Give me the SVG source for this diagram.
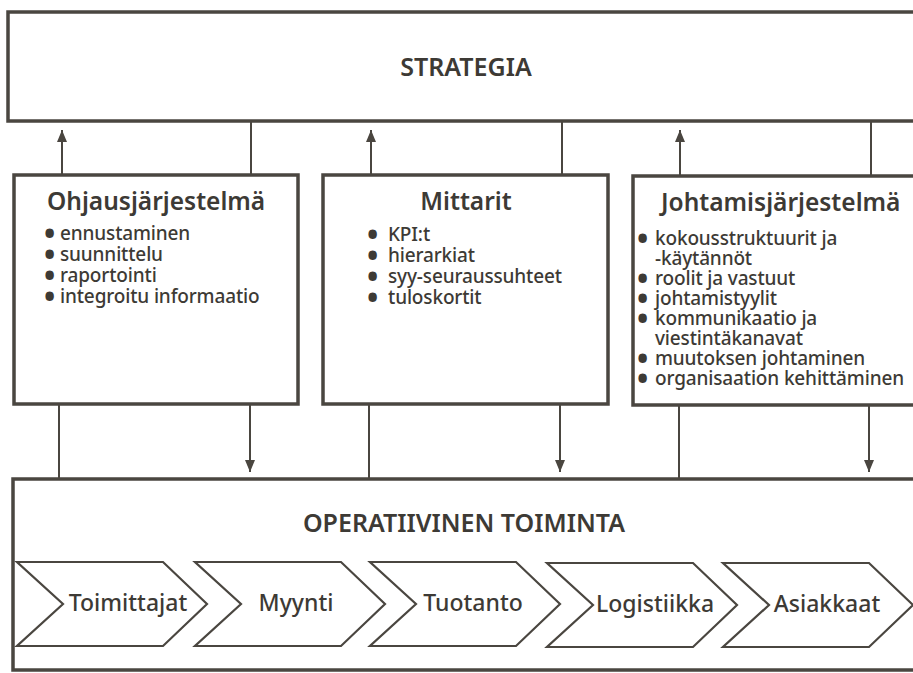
<svg xmlns="http://www.w3.org/2000/svg" width="913" height="673" viewBox="0 0 913 673">
<style>
.box{fill:#fff;stroke:#4a4640;stroke-width:3.5}
.con{stroke:#4a4640;stroke-width:2;fill:none}
.chev{fill:#fff;stroke:#4a4640;stroke-width:2.2;stroke-linejoin:miter}
.t{font-family:"Noto Sans","Open Sans","Liberation Sans",sans-serif;fill:#3d3a35}
.title{font-size:25px;font-weight:600;text-anchor:middle}
.head{font-size:24.5px;font-weight:600}
.li{font-size:19px;font-weight:500;letter-spacing:-0.15px}
.b{font-size:30px;font-weight:700}
.lab{font-size:23px;font-weight:500;text-anchor:middle}
</style>
<defs>
<marker id="ah" viewBox="0 0 10 12" refX="10" refY="6" markerWidth="12" markerHeight="10" markerUnits="userSpaceOnUse" orient="auto" preserveAspectRatio="none">
<path d="M0,0 L10,6 L0,12 Z" fill="#4a4640"/>
</marker>
</defs>
<rect width="913" height="673" fill="#fff"/>

<g id="strategia">
<rect class="box" x="8" y="12" width="920" height="109"/>
<text class="t title" x="466" y="76">STRATEGIA</text>
</g>

<g id="ohjausjarjestelma">
<rect class="box" x="14" y="175" width="284" height="229"/>
<text class="t head" x="47" y="210">Ohjausjärjestelmä</text>
<text class="t li"><tspan class="b" x="44" y="244">•</tspan><tspan x="60" y="240">ennustaminen</tspan></text>
<text class="t li"><tspan class="b" x="44" y="265">•</tspan><tspan x="60" y="261">suunnittelu</tspan></text>
<text class="t li"><tspan class="b" x="44" y="286">•</tspan><tspan x="60" y="282">raportointi</tspan></text>
<text class="t li"><tspan class="b" x="44" y="307">•</tspan><tspan x="60" y="303">integroitu informaatio</tspan></text>
</g>

<g id="mittarit">
<rect class="box" x="323" y="175" width="285" height="229"/>
<text class="t head" x="466" y="210" text-anchor="middle">Mittarit</text>
<text class="t li"><tspan class="b" x="367" y="245">•</tspan><tspan x="388" y="241">KPI:t</tspan></text>
<text class="t li"><tspan class="b" x="367" y="266">•</tspan><tspan x="388" y="262">hierarkiat</tspan></text>
<text class="t li"><tspan class="b" x="367" y="287">•</tspan><tspan x="388" y="283">syy-seuraussuhteet</tspan></text>
<text class="t li"><tspan class="b" x="367" y="308">•</tspan><tspan x="388" y="304">tuloskortit</tspan></text>
</g>

<g id="johtamisjarjestelma">
<rect class="box" x="633" y="176" width="290" height="229"/>
<text class="t head" x="661" y="211">Johtamisjärjestelmä</text>
<text class="t li"><tspan class="b" x="637" y="249">•</tspan><tspan x="655" y="245">kokousstruktuurit ja</tspan></text>
<text class="t li" x="655" y="265">-käytännöt</text>
<text class="t li"><tspan class="b" x="637" y="289">•</tspan><tspan x="655" y="285">roolit ja vastuut</tspan></text>
<text class="t li"><tspan class="b" x="637" y="309">•</tspan><tspan x="655" y="305">johtamistyylit</tspan></text>
<text class="t li"><tspan class="b" x="637" y="329">•</tspan><tspan x="655" y="325">kommunikaatio ja</tspan></text>
<text class="t li" x="655" y="345">viestintäkanavat</text>
<text class="t li"><tspan class="b" x="637" y="369">•</tspan><tspan x="655" y="365">muutoksen johtaminen</tspan></text>
<text class="t li"><tspan class="b" x="637" y="389">•</tspan><tspan x="655" y="385">organisaation kehittäminen</tspan></text>
</g>

<g id="operatiivinen-toiminta">
<rect class="box" x="13" y="479" width="920" height="191"/>
<text class="t title" x="464" y="532">OPERATIIVINEN TOIMINTA</text>
</g>

<g id="toimittajat">
<polygon class="chev" points="17,562 163,562 207,604 163,646 17,646 63,604"/>
<text class="t lab" x="128" y="611">Toimittajat</text>
</g>
<g id="myynti">
<polygon class="chev" points="195,562 341,562 385,604 341,646 195,646 241,604"/>
<text class="t lab" x="296" y="611">Myynti</text>
</g>
<g id="tuotanto">
<polygon class="chev" points="370,562 516,562 560,604 516,646 370,646 416,604"/>
<text class="t lab" x="473" y="611">Tuotanto</text>
</g>
<g id="logistiikka">
<polygon class="chev" points="547,563 693,563 737,605 693,647 547,647 593,605"/>
<text class="t lab" x="655" y="612">Logistiikka</text>
</g>
<g id="asiakkaat">
<polygon class="chev" points="723,563 869,563 913,605 869,647 723,647 769,605"/>
<text class="t lab" x="827" y="612">Asiakkaat</text>
</g>

<g id="connectors">
<line class="con" x1="62" y1="175" x2="62" y2="130" marker-end="url(#ah)"/>
<line class="con" x1="251" y1="121" x2="251" y2="175"/>
<line class="con" x1="371" y1="175" x2="371" y2="130" marker-end="url(#ah)"/>
<line class="con" x1="562" y1="121" x2="562" y2="175"/>
<line class="con" x1="680" y1="176" x2="680" y2="130" marker-end="url(#ah)"/>
<line class="con" x1="871" y1="121" x2="871" y2="176"/>
<line class="con" x1="59" y1="404" x2="59" y2="479"/>
<line class="con" x1="250" y1="404" x2="250" y2="472" marker-end="url(#ah)"/>
<line class="con" x1="369" y1="404" x2="369" y2="479"/>
<line class="con" x1="560" y1="404" x2="560" y2="472" marker-end="url(#ah)"/>
<line class="con" x1="679" y1="405" x2="679" y2="479"/>
<line class="con" x1="869" y1="405" x2="869" y2="472" marker-end="url(#ah)"/>
</g>
</svg>
